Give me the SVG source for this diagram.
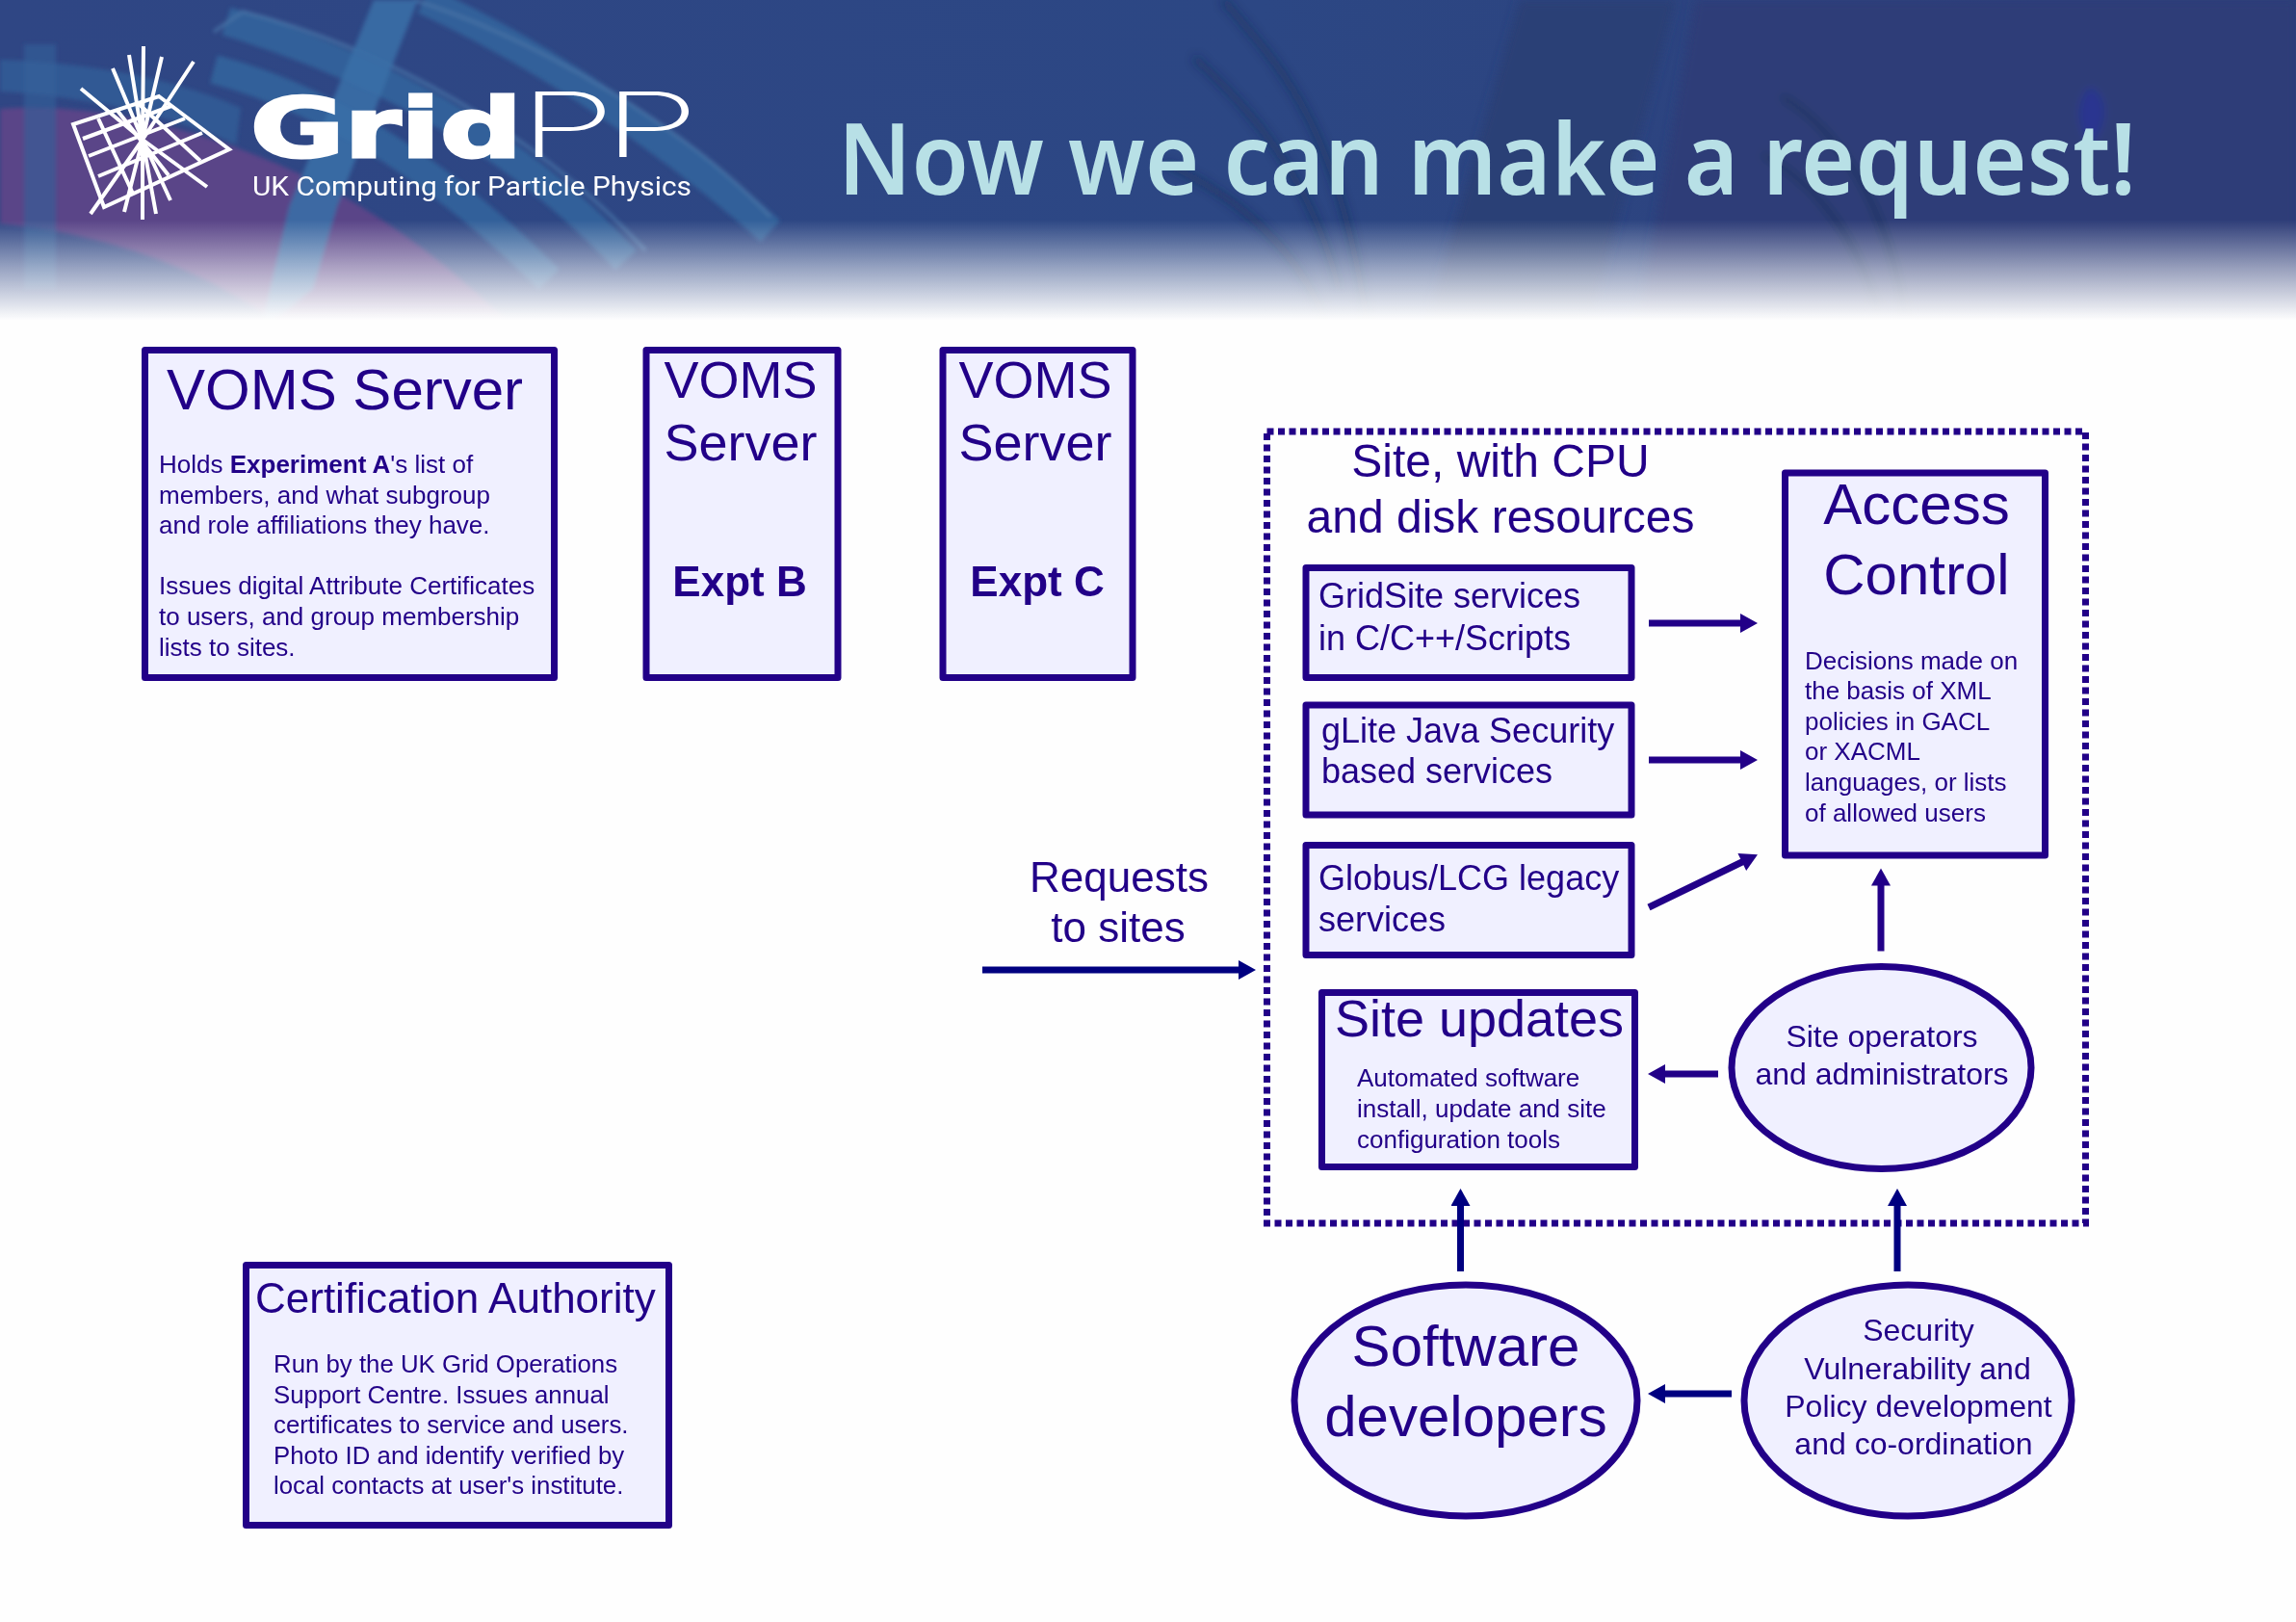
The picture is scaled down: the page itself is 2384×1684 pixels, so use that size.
<svg xmlns="http://www.w3.org/2000/svg" width="2384" height="1684" viewBox="0 0 2384 1684">
<style>
text{font-family:"Liberation Sans",Arial,sans-serif;fill:#220088}
.box{fill:#f0f0ff;stroke:#220088;stroke-width:7;stroke-linejoin:round}
.b26{font-size:26px}
.b258{font-size:25.8px}
.b32{font-size:32px}
.b36{font-size:36px}
.b44{font-size:44px}
.b48{font-size:48px}
.b54{font-size:54px}
.b60{font-size:60px}
.m{text-anchor:middle}
.bold{font-weight:bold}
.arr{stroke:#220088;stroke-width:7;fill:none;marker-end:url(#ah)}
.arrd{stroke:#000080;stroke-width:7;fill:none;marker-end:url(#ahd)}
.band{fill:none;stroke:#33609a;stroke-width:30}
.edge{fill:none;stroke:#4672a6;stroke-width:3}
.shade{fill:none;stroke:#1c2a50;stroke-width:7;opacity:.5}
.logo{stroke:#fff;stroke-width:4;fill:none}
</style>
<defs>
<linearGradient id="fade" x1="0" y1="0" x2="0" y2="1">
<stop offset="0" stop-color="#fefefe" stop-opacity="0"/>
<stop offset=".45" stop-color="#fefefe" stop-opacity=".5"/>
<stop offset=".95" stop-color="#fefefe" stop-opacity="1"/>
<stop offset="1" stop-color="#fefefe" stop-opacity="1"/>
</linearGradient>
<linearGradient id="base" x1="0" y1="0" x2="1" y2="0">
<stop offset="0" stop-color="#2f4684"/>
<stop offset=".55" stop-color="#2c4784"/>
<stop offset="1" stop-color="#2d3f7a"/>
</linearGradient>
<clipPath id="hc"><rect width="2384" height="335"/></clipPath>
<filter id="b2"><feGaussianBlur stdDeviation="2"/></filter>
<filter id="b5"><feGaussianBlur stdDeviation="5"/></filter>
<marker id="ah" markerUnits="userSpaceOnUse" markerWidth="20" markerHeight="20" viewBox="0 0 18 20" refX="8" refY="10" orient="auto"><polygon points="0,0 18,10 0,20" fill="#220088"/></marker>
<marker id="ahd" markerUnits="userSpaceOnUse" markerWidth="20" markerHeight="20" viewBox="0 0 18 20" refX="8" refY="10" orient="auto"><polygon points="0,0 18,10 0,20" fill="#000080"/></marker>
</defs>
<rect width="2384" height="1684" fill="#fefefe"/>
<g id="header" clip-path="url(#hc)">
<rect width="2384" height="335" fill="url(#base)"/>
<g filter="url(#b2)">
<path d="M0,113 C110,105 230,140 330,190 C420,235 480,290 540,345 L300,345 C230,290 130,245 0,232 Z" fill="#5a4488"/>
<path d="M0,62 C100,65 190,85 250,112 L245,150 C180,120 90,100 0,95 Z" fill="#33609a" opacity=".75"/>
<path d="M25,46 L58,46 L58,300 L25,300 Z" fill="#33609a" opacity=".6"/>
<path class="band" d="M235,22 C360,60 520,130 650,270"/>
<path class="band" d="M222,72 C330,100 450,170 570,290"/>
<path class="band" d="M440,0 C570,60 700,150 800,240"/>
<path class="edge" d="M222,33 L252,12 C400,50 560,140 670,260"/>
<path class="edge" d="M430,0 C570,45 720,140 800,225"/>
<path d="M388,0 L434,0 L350,215 L325,300 L270,345 L300,215 Z" fill="#3a70a8" opacity=".85"/>
</g>
<g filter="url(#b5)">
<path d="M1578,0 L1740,0 L1650,340 L1480,340 Z" fill="#2c3f76"/>
<path d="M1760,0 L2384,0 L2384,340 L1700,340 Z" fill="#2d3e78"/>
<path class="shade" d="M1270,0 C1330,70 1390,130 1420,340"/>
<path class="shade" d="M1240,60 C1330,140 1370,220 1390,300"/>
<path class="shade" d="M1210,170 C1300,210 1350,270 1375,330"/>
<path class="shade" d="M1850,100 C1900,130 1960,200 1980,340"/>
<path class="shade" d="M1830,160 C1900,200 1930,260 1950,320"/>
<path d="M2170,90 C2190,100 2190,130 2170,150 C2155,130 2155,105 2170,90 Z" fill="#2a3590"/>
</g>
<rect y="228" width="2384" height="110" fill="url(#fade)"/>
</g>
<g id="logo">
<g class="logo">
<polygon points="165,100 238,155 108,215 76,129"/>
<path d="M86,144 L178,110 M92,162 L192,123 M102,183 L210,138 M102,123 L138,201 M122,115 L175,182 M143,107 L208,167"/>
<path d="M148,145 L149,48 M148,145 L134,57 M148,145 L117,71 M148,145 L84,92 M148,145 L168,59 M148,145 L201,64 M148,145 L215,194 M148,145 L177,208 M148,145 L162,222 M148,145 L148,228 M148,145 L129,220 M148,145 L94,222"/>
</g>
<text x="260" y="163" style="fill:#fff;stroke:#fff;stroke-width:3;font-family:'DejaVu Sans',sans-serif;font-weight:bold;font-size:86px" textLength="282" lengthAdjust="spacingAndGlyphs">Grid</text>
<text transform="translate(539,163) scale(1.73,1)" style="fill:#fff;font-family:'Inter',sans-serif;font-weight:200;font-size:93px;letter-spacing:-7px">PP</text>
<text x="262" y="203" style="fill:#fff;font-family:'Roboto',sans-serif;font-size:28px" textLength="456" lengthAdjust="spacingAndGlyphs">UK Computing for Particle Physics</text>
</g>
<text id="title" x="870" y="202" style="fill:#b8e0e6;font-family:'Noto Sans',sans-serif;font-weight:600;font-size:103px" textLength="1348" lengthAdjust="spacingAndGlyphs">Now we can make a request!</text>

<g id="site-boundary"><rect x="1315.5" y="448" width="850" height="822" fill="none" stroke="#220088" stroke-width="7" stroke-dasharray="7 4.5"/>
<text class="b48 m" x="1558" y="495">Site, with CPU</text>
<text class="b48 m" x="1558" y="553">and disk resources</text></g>

<g id="voms-a"><rect class="box" x="150.5" y="363.5" width="425" height="340"/>
<text class="b60" x="173" y="425">VOMS Server</text>
<g class="b26"><text x="165" y="491">Holds <tspan class="bold">Experiment A</tspan>'s list of</text>
<text x="165" y="522.5">members, and what subgroup</text>
<text x="165" y="554">and role affiliations they have.</text>
<text x="165" y="617">Issues digital Attribute Certificates</text>
<text x="165" y="649">to users, and group membership</text>
<text x="165" y="681">lists to sites.</text></g></g>

<g id="voms-b"><rect class="box" x="671" y="363.5" width="199" height="340"/>
<text class="b54 m" x="769" y="413">VOMS</text><text class="b54 m" x="769" y="478">Server</text>
<text class="b44 m bold" x="768" y="619">Expt B</text></g>

<g id="voms-c"><rect class="box" x="979" y="363.5" width="197" height="340"/>
<text class="b54 m" x="1075" y="413">VOMS</text><text class="b54 m" x="1075" y="478">Server</text>
<text class="b44 m bold" x="1077" y="619">Expt C</text></g>

<g id="requests"><text class="b44 m" x="1162" y="926">Requests</text><text class="b44 m" x="1161" y="978">to sites</text></g>

<g id="gridsite"><rect class="box" x="1356" y="589.5" width="338" height="114"/>
<text class="b36" x="1369" y="631">GridSite services</text><text class="b36" x="1369" y="675">in C/C++/Scripts</text></g>

<g id="glite"><rect class="box" x="1356" y="732" width="338" height="114"/>
<text class="b36" x="1372" y="770.5">gLite Java Security</text><text class="b36" x="1372" y="813">based services</text></g>

<g id="globus"><rect class="box" x="1356" y="877.5" width="338" height="114"/>
<text class="b36" x="1369" y="923.5">Globus/LCG legacy</text><text class="b36" x="1369" y="967">services</text></g>

<g id="access"><rect class="box" x="1853.5" y="491" width="270" height="397"/>
<text class="b60 m" x="1990" y="544">Access</text><text class="b60 m" x="1990" y="617">Control</text>
<g class="b26"><text x="1874" y="695">Decisions made on</text><text x="1874" y="726">the basis of XML</text><text x="1874" y="757.5">policies in GACL</text><text x="1874" y="789">or XACML</text><text x="1874" y="821">languages, or lists</text><text x="1874" y="852.5">of allowed users</text></g></g>

<g id="site-updates"><rect class="box" x="1372.5" y="1030.5" width="325" height="181"/>
<text class="b54 m" x="1536" y="1076">Site updates</text>
<g class="b26"><text x="1409" y="1128">Automated software</text><text x="1409" y="1160">install, update and site</text><text x="1409" y="1192">configuration tools</text></g></g>

<g id="site-operators"><ellipse class="box" cx="1953.5" cy="1108.5" rx="155.5" ry="105"/>
<text class="b32 m" x="1954" y="1086.5">Site operators</text><text class="b32 m" x="1954" y="1125.5">and administrators</text></g>

<g id="software-developers"><ellipse class="box" cx="1522" cy="1454" rx="178" ry="120"/>
<text class="b60 m" x="1522" y="1418">Software</text><text class="b60 m" x="1522" y="1491">developers</text></g>

<g id="security"><ellipse class="box" cx="1981" cy="1454" rx="170" ry="120"/>
<text class="b32 m" x="1992" y="1392">Security</text><text class="b32 m" x="1991" y="1431.5">Vulnerability and</text><text class="b32 m" x="1992" y="1470.5">Policy development</text><text class="b32 m" x="1987" y="1510">and co-ordination</text></g>

<g id="ca"><rect class="box" x="255.5" y="1313.5" width="439" height="270"/>
<text class="b44" x="265" y="1363">Certification Authority</text>
<g class="b258"><text x="284" y="1424.5">Run by the UK Grid Operations</text><text x="284" y="1456.5">Support Centre. Issues annual</text><text x="284" y="1487.5">certificates to service and users.</text><text x="284" y="1519.5">Photo ID and identify verified by</text><text x="284" y="1550.5">local contacts at user's institute.</text></g></g>

<g id="connectors">
<line class="arrd" x1="1020" y1="1007" x2="1294" y2="1007"/>
<line class="arr" x1="1712" y1="647" x2="1815" y2="647"/>
<line class="arr" x1="1712" y1="789" x2="1815" y2="789"/>
<line class="arr" x1="1712" y1="942" x2="1816" y2="891.5"/>
<line class="arr" x1="1953" y1="987.5" x2="1953" y2="911.5"/>
<line class="arr" x1="1784" y1="1115" x2="1721" y2="1115"/>
<line class="arrd" x1="1798" y1="1447" x2="1721" y2="1447"/>
<line class="arrd" x1="1516.5" y1="1320" x2="1516.5" y2="1244"/>
<line class="arrd" x1="1970" y1="1320" x2="1970" y2="1244"/>
</g>
</svg>
